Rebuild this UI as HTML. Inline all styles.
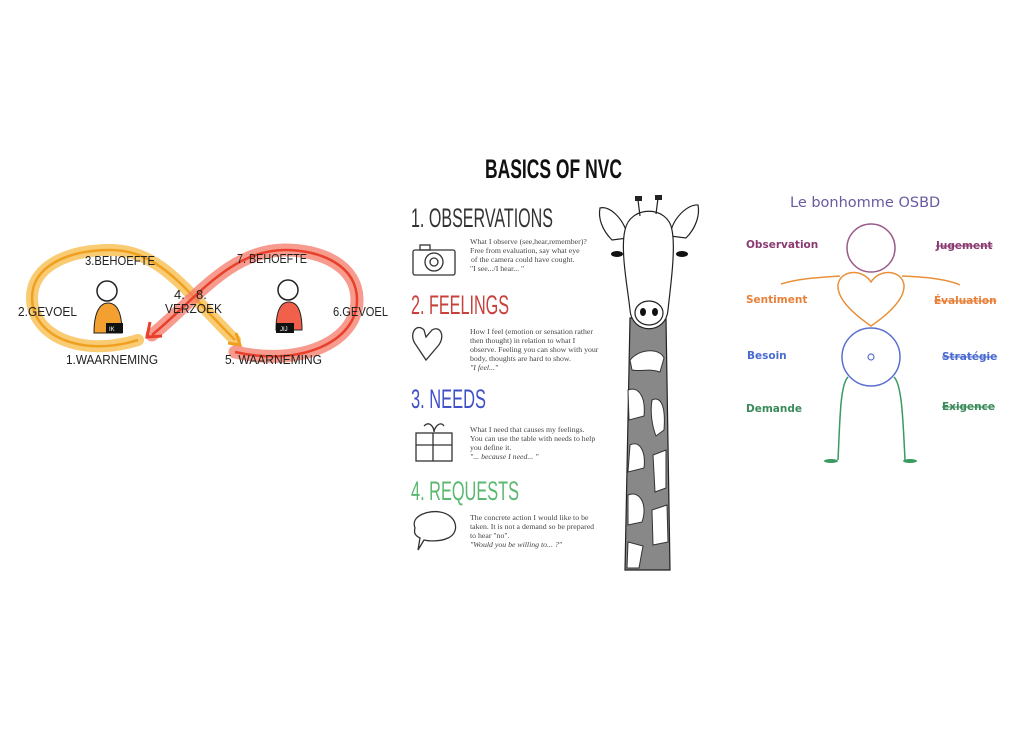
<!DOCTYPE html>
<html><head><meta charset="utf-8"><style>
html,body{margin:0;padding:0;background:#fff;width:1024px;height:731px;overflow:hidden}
svg{display:block}
.hand{font-family:"Liberation Sans Narrow","Liberation Sans",sans-serif;font-size:13px;fill:#222}
.h{font-family:"Liberation Sans Narrow","Liberation Sans",sans-serif;font-size:27px;font-weight:normal}
.b{font-family:"Liberation Serif",serif;font-size:7.8px;fill:#444}
.o{font-family:"DejaVu Sans",sans-serif;font-size:10.5px;font-weight:bold}
</style></head><body>
<svg width="1024" height="731" viewBox="0 0 1024 731" xmlns="http://www.w3.org/2000/svg">
<!-- Infinity -->
<path d="M138,340 C80,358 32,335 32,298 C32,265 70,250 110,250 C160,250 185,290 235,340" fill="none" stroke="#f8c25a" stroke-width="12" stroke-linecap="round" opacity="0.85"/>
<path d="M138,340 C80,358 32,335 32,298 C32,265 70,250 110,250 C160,250 185,290 235,340" fill="none" stroke="#f0a020" stroke-width="2.5"/>
<path d="M228,343 L240,345 L236,333" fill="none" stroke="#f0a020" stroke-width="3"/>
<path d="M235,352 C300,367 357,342 357,300 C357,265 320,250 285,250 C230,250 195,300 152,335" fill="none" stroke="#f47a6a" stroke-width="13" stroke-linecap="round" opacity="0.75"/>
<path d="M235,352 C300,367 357,342 357,300 C357,265 320,250 285,250 C230,250 195,300 152,335" fill="none" stroke="#e8402a" stroke-width="2.5"/>
<path d="M150,322 L147,337 L162,336" fill="none" stroke="#e8402a" stroke-width="3"/>
<text class="hand" x="85" y="265" textLength="70" lengthAdjust="spacingAndGlyphs">3.BEHOEFTE</text>
<text class="hand" x="18" y="316" textLength="59" lengthAdjust="spacingAndGlyphs">2.GEVOEL</text>
<text class="hand" x="66" y="364" textLength="92" lengthAdjust="spacingAndGlyphs">1.WAARNEMING</text>
<text class="hand" x="174" y="299">4.</text>
<text class="hand" x="196" y="299">8.</text>
<text class="hand" x="165" y="313" textLength="57" lengthAdjust="spacingAndGlyphs">VERZOEK</text>
<text class="hand" x="237" y="263" textLength="70" lengthAdjust="spacingAndGlyphs">7. BEHOEFTE</text>
<text class="hand" x="333" y="316" textLength="55" lengthAdjust="spacingAndGlyphs">6.GEVOEL</text>
<text class="hand" x="225" y="364" textLength="97" lengthAdjust="spacingAndGlyphs">5. WAARNEMING</text>
<circle cx="107" cy="291" r="10" fill="#fff" stroke="#222" stroke-width="1.5"/>
<path d="M94,333 C94,312 100,303 108,303 C117,303 122,312 122,333 Z" fill="#f4a030" stroke="#222" stroke-width="1"/>
<rect x="106" y="323" width="17" height="10" fill="#111"/>
<text x="109" y="331" font-size="6" fill="#fff" font-family="Liberation Sans">IK</text>
<circle cx="288" cy="290" r="10" fill="#fff" stroke="#222" stroke-width="1.5"/>
<path d="M276,330 C276,310 281,302 289,302 C297,302 302,310 302,330 Z" fill="#f0604a" stroke="#222" stroke-width="1"/>
<rect x="276" y="323" width="18" height="10" fill="#111"/>
<text x="280" y="331" font-size="6" fill="#fff" font-family="Liberation Sans">JIJ</text>

<!-- NVC -->
<text x="485" y="178" font-family="Liberation Sans Narrow,Liberation Sans,sans-serif" font-weight="bold" font-size="27" fill="#111" textLength="137" lengthAdjust="spacingAndGlyphs">BASICS OF NVC</text>
<text class="h" x="411" y="227" fill="#333" textLength="142" lengthAdjust="spacingAndGlyphs">1. OBSERVATIONS</text>
<text class="b" x="470" y="244">What I observe (see,hear,remember)?</text>
<text class="b" x="470" y="253">Free from evaluation, say what eye</text>
<text class="b" x="471" y="262">of the camera could have cought.</text>
<text class="b" x="470" y="271">"I see.../I hear... "</text>
<text class="h" x="411" y="314" fill="#c8403a" textLength="98" lengthAdjust="spacingAndGlyphs">2. FEELINGS</text>
<text class="b" x="470" y="334">How I feel (emotion or sensation rather</text>
<text class="b" x="470" y="343">then  thought) in relation to what I</text>
<text class="b" x="470" y="352">observe. Feeling you can show with your</text>
<text class="b" x="470" y="361">body, thoughts are hard to show.</text>
<text class="b" x="470" y="370" font-style="italic">"I feel..."</text>
<text class="h" x="411" y="408" fill="#4050c8" textLength="75" lengthAdjust="spacingAndGlyphs">3. NEEDS</text>
<text class="b" x="470" y="432">What I need that causes my feelings.</text>
<text class="b" x="470" y="441">You can use the table with needs to help</text>
<text class="b" x="470" y="450">you define it.</text>
<text class="b" x="470" y="459" font-style="italic">"... because I need... "</text>
<text class="h" x="411" y="500" fill="#5ab870" textLength="108" lengthAdjust="spacingAndGlyphs">4. REQUESTS</text>
<text class="b" x="470" y="520">The concrete action I would like to be</text>
<text class="b" x="470" y="529">taken. It is not a demand so be prepared</text>
<text class="b" x="470" y="538">to hear "no".</text>
<text class="b" x="470" y="547" font-style="italic">"Would you be willing to... ?"</text>
<!-- icons -->
<g fill="none" stroke="#333" stroke-width="1.3">
<rect x="413" y="250" width="42" height="25" rx="2"/><rect x="420" y="245" width="10" height="5"/>
<circle cx="434" cy="262" r="9"/><circle cx="434" cy="262" r="4"/>
<path d="M424,330 C416,322 408,335 416,345 L426,360 L438,346 C446,336 440,325 432,330 L426,337 Z"/>
<rect x="416" y="433" width="36" height="28"/><path d="M416,445 H452 M433,433 V461 M424,426 C430,420 434,428 434,432 C434,428 440,420 444,426"/>
<path d="M415,528 C410,515 430,510 440,512 C458,515 460,533 448,538 C440,542 428,541 424,540 L418,550 L420,538 C414,535 414,532 415,528 Z"/>
</g>
<!-- giraffe -->
<g stroke="#222" stroke-width="1.2" fill="#fff">
<path d="M630,318 L625,570 L670,570 L666,318 Z" fill="#888"/>
<g fill="#fff" stroke="#333" stroke-width="1">
<path d="M630,360 C640,348 660,348 664,358 L660,372 C650,368 640,372 632,370 Z"/>
<path d="M628,390 C638,386 646,396 644,416 L629,420 Z"/>
<path d="M652,400 C660,396 666,404 664,430 L656,436 C652,426 650,412 652,400 Z"/>
<path d="M630,445 C640,440 646,452 644,468 L628,472 Z"/>
<path d="M653,455 L666,450 L666,488 L655,492 Z"/>
<path d="M628,495 C640,490 648,505 642,522 L628,525 Z"/>
<path d="M652,510 L667,505 L668,542 L653,545 Z"/>
<path d="M628,542 L643,546 L639,568 L627,568 Z"/>
</g>
<path d="M600,208 C610,205 625,220 628,238 L612,240 C602,230 598,218 600,208 Z"/>
<path d="M698,205 C688,204 672,218 670,236 L686,238 C696,228 700,215 698,205 Z"/>
<path d="M625,230 C630,205 668,205 672,230 C676,250 670,290 668,310 C666,335 632,335 630,310 C628,290 620,250 625,230 Z"/>
<path d="M638,200 L640,216 M658,198 L656,214"/>
<ellipse cx="649" cy="313" rx="14" ry="12"/>
</g>
<rect x="635" y="196" width="7" height="5" fill="#222"/><rect x="655" y="195" width="7" height="5" fill="#222"/>
<ellipse cx="617" cy="254" rx="6" ry="3" fill="#111"/><ellipse cx="682" cy="254" rx="6" ry="3" fill="#111"/>
<ellipse cx="643" cy="312" rx="3" ry="4" fill="#111"/><ellipse cx="655" cy="312" rx="3" ry="4" fill="#111"/>

<!-- OSBD -->
<text x="790" y="207" font-family="DejaVu Sans,sans-serif" font-size="14.5" fill="#6a5aa0">Le bonhomme OSBD</text>
<circle cx="871" cy="248" r="24" fill="none" stroke="#9a5a8a" stroke-width="1.5"/>
<path d="M871,282 C862,268 840,270 838,285 C837,300 855,315 871,326 C887,315 905,300 904,285 C902,270 880,268 871,282 Z" fill="none" stroke="#e8903a" stroke-width="1.5"/>
<path d="M781,284 C800,278 825,277 840,276 M902,276 C920,277 945,278 960,285" fill="none" stroke="#e8903a" stroke-width="1.5"/>
<circle cx="871" cy="357" r="29" fill="none" stroke="#5a70d0" stroke-width="1.5"/>
<circle cx="871" cy="357" r="3" fill="none" stroke="#5a70d0" stroke-width="1.2"/>
<path d="M848,377 C840,385 840,420 838,460 M894,377 C902,385 903,420 905,460" fill="none" stroke="#3a9a60" stroke-width="1.5"/>
<ellipse cx="831" cy="461" rx="7" ry="2" fill="#3a9a60"/><ellipse cx="910" cy="461" rx="7" ry="2" fill="#3a9a60"/>
<text class="o" x="746" y="248" fill="#8a3a70">Observation</text>
<text class="o" x="936" y="249" fill="#8a3a70" text-decoration="line-through">Jugement</text>
<text class="o" x="746" y="303" fill="#e8803a">Sentiment</text>
<text class="o" x="934" y="304" fill="#e8803a" text-decoration="line-through">Évaluation</text>
<text class="o" x="747" y="359" fill="#4a6ad0">Besoin</text>
<text class="o" x="942" y="360" fill="#4a6ad0" text-decoration="line-through">Stratégie</text>
<text class="o" x="746" y="412" fill="#3a8a5a">Demande</text>
<text class="o" x="942" y="410" fill="#3a8a5a" text-decoration="line-through">Exigence</text>
</svg>
</body></html>
